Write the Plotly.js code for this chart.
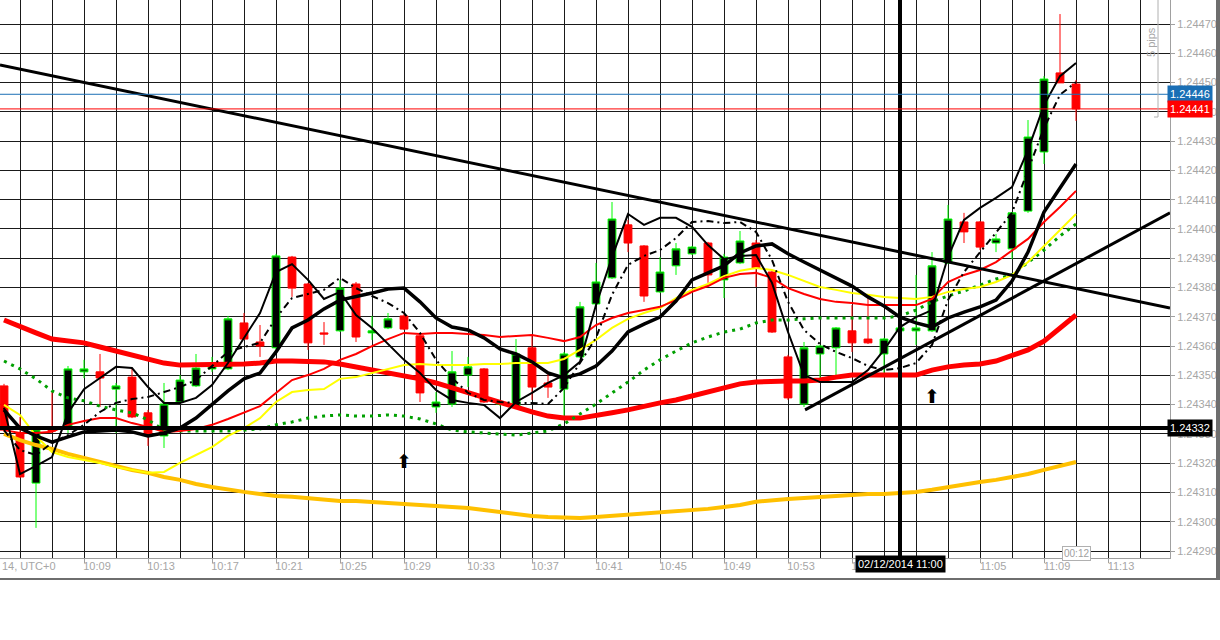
<!DOCTYPE html>
<html><head><meta charset="utf-8">
<script src="https://cdn.plot.ly/plotly-3.0.1.min.js"></script>
<style>html,body{margin:0;padding:0;background:#fff;}#chart{width:1220px;height:640px;}</style>
</head><body><div id="chart"></div>
<script>
const DAY = "2014-12-02";
const minutes = ["10:04","10:05","10:06","10:07","10:08","10:09","10:10","10:11","10:12","10:13",
"10:14","10:15","10:16","10:17","10:18","10:19","10:20","10:21","10:22","10:23",
"10:24","10:25","10:26","10:27","10:28","10:29","10:30","10:31","10:32","10:33",
"10:34","10:35","10:36","10:37","10:38","10:39","10:40","10:41","10:42","10:43",
"10:44","10:45","10:46","10:47","10:48","10:49","10:50","10:51","10:52","10:53",
"10:54","10:55","10:56","10:57","10:58","10:59","11:00","11:01","11:02","11:03",
"11:04","11:05","11:06","11:07","11:08","11:09","11:10","11:11"];
const tickLabels = ["10:09","10:13","10:17","10:21","10:25","10:29","10:33","10:37","10:41","10:45",
"10:49","10:53","10:57","11:05","11:09","11:13"];

const openP = [1.243464,1.243303,1.243132,1.243324,1.243327,1.243512,1.243512,1.243453,1.243494,1.243372,
1.243293,1.243409,1.243464,1.243522,1.243522,1.243679,1.243614,1.243594,1.243904,1.243812,
1.243645,1.243652,1.243812,1.243645,1.243662,1.243703,1.243635,1.243392,1.243402,1.243501,
1.243522,1.243402,1.243392,1.243594,1.243474,1.243453,1.243563,1.243744,1.243833,1.244014,
1.243942,1.243785,1.243874,1.243915,1.243952,1.243826,1.243884,1.243952,1.243853,1.243563,
1.243402,1.243573,1.243594,1.243652,1.243624,1.243573,1.243652,1.243652,1.243652,1.243884,
1.244024,1.244024,1.243952,1.243932,1.244061,1.244263,1.244533,1.244495];
const highP = [1.243471,1.243358,1.243317,1.243443,1.243532,1.243553,1.243573,1.243474,1.243522,1.243382,
1.243474,1.243501,1.243573,1.243563,1.243703,1.243713,1.243672,1.243915,1.243908,1.243816,
1.243682,1.243826,1.243819,1.243703,1.243713,1.243710,1.243638,1.243443,1.243583,1.243563,
1.243525,1.243416,1.243624,1.243635,1.243508,1.243580,1.243751,1.243884,1.244092,1.244031,
1.243945,1.243904,1.243952,1.243942,1.243956,1.243915,1.243993,1.243962,1.243860,1.243570,
1.243614,1.243604,1.243665,1.243740,1.243768,1.243628,1.243665,1.243843,1.243921,1.244082,
1.244055,1.244027,1.243983,1.244058,1.244372,1.244522,1.244734,1.244509];
const lowP = [1.243307,1.243150,1.242979,1.243307,1.243303,1.243491,1.243392,1.243303,1.243354,1.243259,
1.243252,1.243406,1.243460,1.243512,1.243518,1.243621,1.243563,1.243587,1.243768,1.243587,
1.243604,1.243648,1.243614,1.243621,1.243658,1.243655,1.243409,1.243372,1.243392,1.243460,
1.243406,1.243395,1.243389,1.243416,1.243423,1.243348,1.243559,1.243740,1.243829,1.243921,
1.243751,1.243781,1.243843,1.243911,1.243816,1.243764,1.243880,1.243802,1.243645,1.243416,
1.243392,1.243491,1.243494,1.243580,1.243607,1.243508,1.243648,1.243604,1.243648,1.243880,
1.243952,1.243928,1.243921,1.243897,1.244055,1.244222,1.244499,1.244369];
const closeP = [1.243313,1.243153,1.243313,1.243310,1.243522,1.243522,1.243491,1.243464,1.243358,1.243300,
1.243402,1.243484,1.243525,1.243535,1.243693,1.243624,1.243600,1.243908,1.243798,1.243611,
1.243641,1.243798,1.243631,1.243652,1.243693,1.243658,1.243440,1.243409,1.243512,1.243529,
1.243409,1.243406,1.243573,1.243460,1.243460,1.243573,1.243734,1.243819,1.244034,1.243952,
1.243771,1.243853,1.243932,1.243938,1.243843,1.243904,1.243959,1.243867,1.243648,1.243423,
1.243594,1.243600,1.243662,1.243611,1.243611,1.243624,1.243662,1.243662,1.243874,1.244034,
1.243990,1.243938,1.243966,1.244055,1.244314,1.244512,1.244499,1.244410];

const maOrange = [1.243300,1.243279,1.243262,1.243249,1.243232,1.243218,1.243204,1.243191,1.243177,1.243167,
1.243153,1.243143,1.243129,1.243119,1.243109,1.243102,1.243095,1.243088,1.243085,1.243081,
1.243074,1.243071,1.243071,1.243068,1.243064,1.243061,1.243057,1.243054,1.243050,1.243047,
1.243040,1.243033,1.243027,1.243020,1.243016,1.243013,1.243013,1.243016,1.243020,1.243023,
1.243027,1.243030,1.243033,1.243037,1.243044,1.243050,1.243057,1.243068,1.243074,1.243078,
1.243081,1.243085,1.243088,1.243091,1.243095,1.243095,1.243098,1.243102,1.243109,1.243119,
1.243129,1.243136,1.243143,1.243153,1.243163,1.243177,1.243191,1.243204];
const maRedThick = [1.243689,1.243665,1.243645,1.243624,1.243617,1.243611,1.243597,1.243583,1.243566,1.243553,
1.243542,1.243535,1.243535,1.243535,1.243535,1.243539,1.243542,1.243549,1.243549,1.243549,
1.243546,1.243539,1.243529,1.243518,1.243508,1.243498,1.243488,1.243474,1.243457,1.243440,
1.243423,1.243406,1.243389,1.243375,1.243361,1.243354,1.243354,1.243361,1.243372,1.243382,
1.243395,1.243406,1.243416,1.243430,1.243443,1.243460,1.243471,1.243477,1.243481,1.243481,
1.243481,1.243484,1.243494,1.243501,1.243501,1.243501,1.243501,1.243501,1.243518,1.243529,
1.243535,1.243539,1.243549,1.243566,1.243587,1.243617,1.243662,1.243706];
const maGreen = [1.243549,1.243522,1.243488,1.243447,1.243423,1.243413,1.243395,1.243382,1.243372,1.243348,
1.243313,1.243310,1.243310,1.243310,1.243310,1.243313,1.243317,1.243331,1.243341,1.243354,
1.243361,1.243365,1.243361,1.243361,1.243365,1.243361,1.243351,1.243334,1.243313,1.243307,
1.243303,1.243300,1.243296,1.243303,1.243310,1.243334,1.243368,1.243402,1.243440,1.243477,
1.243518,1.243553,1.243583,1.243611,1.243631,1.243648,1.243658,1.243679,1.243689,1.243689,
1.243693,1.243696,1.243696,1.243696,1.243696,1.243696,1.243703,1.243723,1.243751,1.243771,
1.243788,1.243809,1.243829,1.243843,1.243887,1.243928,1.243976,1.244017];
const maYellow = [1.243399,1.243365,1.243293,1.243238,1.243221,1.243211,1.243201,1.243187,1.243177,1.243167,
1.243170,1.243201,1.243228,1.243255,1.243293,1.243320,1.243354,1.243409,1.243443,1.243450,
1.243453,1.243488,1.243494,1.243508,1.243522,1.243535,1.243539,1.243535,1.243535,1.243535,
1.243539,1.243539,1.243542,1.243542,1.243542,1.243556,1.243587,1.243621,1.243662,1.243693,
1.243713,1.243730,1.243764,1.243792,1.243812,1.243839,1.243857,1.243867,1.243860,1.243843,
1.243822,1.243802,1.243792,1.243781,1.243775,1.243768,1.243764,1.243761,1.243768,1.243785,
1.243795,1.243802,1.243819,1.243843,1.243887,1.243942,1.243997,1.244051];
const maRedThin = [1.243313,1.243303,1.243303,1.243307,1.243331,1.243344,1.243354,1.243354,1.243337,1.243324,
1.243307,1.243310,1.243317,1.243331,1.243351,1.243372,1.243395,1.243440,1.243484,1.243501,
1.243522,1.243553,1.243573,1.243600,1.243624,1.243645,1.243641,1.243645,1.243645,1.243641,
1.243638,1.243631,1.243635,1.243638,1.243628,1.243617,1.243631,1.243672,1.243696,1.243713,
1.243723,1.243734,1.243757,1.243785,1.243805,1.243833,1.243846,1.243850,1.243833,1.243798,
1.243778,1.243761,1.243751,1.243747,1.243740,1.243740,1.243740,1.243740,1.243761,1.243819,
1.243843,1.243860,1.243887,1.243925,1.243966,1.244024,1.244075,1.244130];
const maBlackMid = [1.243382,1.243320,1.243293,1.243272,1.243290,1.243307,1.243310,1.243313,1.243307,1.243293,
1.243303,1.243320,1.243354,1.243399,1.243447,1.243488,1.243508,1.243580,1.243662,1.243689,
1.243727,1.243757,1.243768,1.243781,1.243795,1.243798,1.243751,1.243696,1.243665,1.243655,
1.243628,1.243590,1.243573,1.243546,1.243508,1.243491,1.243505,1.243532,1.243583,1.243648,
1.243675,1.243699,1.243754,1.243826,1.243850,1.243874,1.243918,1.243942,1.243949,1.243915,
1.243887,1.243860,1.243833,1.243805,1.243768,1.243737,1.243699,1.243679,1.243665,1.243696,
1.243716,1.243734,1.243757,1.243822,1.243921,1.244058,1.244140,1.244222];
const maBlackDash = [1.243313,1.243245,1.243228,1.243269,1.243296,1.243331,1.243375,1.243406,1.243419,1.243426,
1.243443,1.243460,1.243484,1.243532,1.243580,1.243597,1.243611,1.243696,1.243764,1.243778,
1.243792,1.243833,1.243798,1.243771,1.243747,1.243713,1.243645,1.243553,1.243491,1.243440,
1.243416,1.243409,1.243406,1.243406,1.243402,1.243457,1.243542,1.243628,1.243775,1.243877,
1.243908,1.243928,1.243969,1.244024,1.244027,1.244020,1.244024,1.243990,1.243894,1.243751,
1.243655,1.243607,1.243580,1.243559,1.243532,1.243518,1.243525,1.243542,1.243604,1.243757,
1.243853,1.243921,1.243990,1.244055,1.244201,1.244345,1.244458,1.244502];
const maBlackFast = [1.243389,1.243163,1.243191,1.243221,1.243372,1.243453,1.243491,1.243529,1.243525,1.243460,
1.243406,1.243406,1.243423,1.243467,1.243542,1.243628,1.243713,1.243853,1.243880,1.243826,
1.243761,1.243785,1.243706,1.243662,1.243607,1.243553,1.243508,1.243450,1.243416,1.243406,
1.243399,1.243354,1.243409,1.243440,1.243474,1.243501,1.243546,1.243740,1.243904,1.244051,
1.244014,1.244038,1.244038,1.244007,1.243945,1.243897,1.243908,1.243911,1.243816,1.243648,
1.243501,1.243477,1.243477,1.243477,1.243518,1.243587,1.243665,1.243699,1.243723,1.243904,
1.244031,1.244072,1.244106,1.244143,1.244270,1.244423,1.244522,1.244567];

const arrowMinutes = ["10:29","11:02"];
const arrowPrices = [1.243201,1.243423];
const trendDownTimes = ["10:03:45","11:16:52.5"];
const trendDownPrices = [1.244560,1.243730];
const trendUpTimes = ["10:54:04","11:16:52.5"];
const trendUpPrices = [1.243382,1.244055];
const hLevel = [1.24332];
const vLineTime = ["11:00"];
const bidPrice = 1.24441;
const askPrice = 1.24446;
const xRangeTimes = ["10:03:45","11:16:52.5"];
const yRange = [1.2428762,1.2447820];

const T = m => DAY + " " + m;
const xs = minutes.map(T);

function line(y, color, width, dash){
  return {type:"scatter", mode:"lines", x:xs, y:y, line:{color:color,width:width,dash:dash||"solid"}, hoverinfo:"skip"};
}
const traces = [
  line(maOrange, "#ffc000", 4),
  line(maRedThick, "#ff0000", 5),
  line(maGreen, "#00a000", 3, "3px,5px"),
  line(maYellow, "#ffff00", 2),
  line(maRedThin, "#ff0000", 2),
  line(maBlackMid, "#000000", 3.5),
  line(maBlackDash, "#000000", 2, "7px,4px,2px,4px"),
  line(maBlackFast, "#000000", 2),
  {type:"candlestick", x:xs, open:openP, high:highP, low:lowP, close:closeP,
   increasing:{line:{color:"#00ff00",width:1}, fillcolor:"#000000"},
   decreasing:{line:{color:"#ff0000",width:1}, fillcolor:"#ff0000"},
   whiskerwidth:0, hoverinfo:"skip"},
  {type:"scatter", mode:"text", x:arrowMinutes.map(T), y:arrowPrices, text:arrowMinutes.map(()=>"⬆"),
   textfont:{family:"DejaVu Sans", size:19, color:"#000"}, hoverinfo:"skip"}
];

const P = X => X/1170;           // pixel -> paper x helper for frame decorations
const Q = Y => (558-Y)/558;      // pixel -> paper y helper for frame decorations

const shapes = [
  {type:"line", xref:"x", yref:"y", x0:T(trendDownTimes[0]), y0:trendDownPrices[0], x1:T(trendDownTimes[1]), y1:trendDownPrices[1], line:{color:"#000",width:3}},
  {type:"line", xref:"x", yref:"y", x0:T(trendUpTimes[0]), y0:trendUpPrices[0], x1:T(trendUpTimes[1]), y1:trendUpPrices[1], line:{color:"#000",width:3}},
  {type:"line", xref:"paper", yref:"y", x0:0, x1:1, y0:hLevel[0], y1:hLevel[0], line:{color:"#000",width:4}},
  {type:"line", xref:"x", yref:"paper", x0:T(vLineTime[0]), x1:T(vLineTime[0]), y0:0, y1:1, line:{color:"#000",width:4}},
  {type:"line", xref:"paper", yref:"y", x0:0, x1:1, y0:askPrice, y1:askPrice, line:{color:"#1a6fb5",width:1}},
  {type:"line", xref:"paper", yref:"y", x0:0, x1:1, y0:bidPrice, y1:bidPrice, line:{color:"#ff0000",width:1}},
  {type:"line", xref:"paper", yref:"paper", x0:P(1158), x1:P(1158), y0:Q(0), y1:Q(117), line:{color:"#b0b0b0",width:1}},
  {type:"line", xref:"paper", yref:"paper", x0:P(1154), x1:P(1158), y0:Q(117), y1:Q(117), line:{color:"#b0b0b0",width:1}},
  {type:"line", xref:"paper", yref:"paper", x0:0, x1:P(1220), y0:Q(579), y1:Q(579), line:{color:"#6e6e6e",width:2}},
  {type:"rect", xref:"paper", yref:"paper", x0:P(1216), x1:P(1220), y0:Q(580), y1:Q(0), line:{width:0}, fillcolor:"#6e6e6e"}
];

const tagFont = {family:"Liberation Sans", size:11, color:"#ffffff"};
const annotations = [
  {xref:"paper", yref:"y", x:1, y:askPrice, xanchor:"left", yanchor:"middle", xshift:-3, text:askPrice.toFixed(5), showarrow:false, bgcolor:"#1a6fb5", font:tagFont, borderpad:2},
  {xref:"paper", yref:"y", x:1, y:bidPrice, xanchor:"left", yanchor:"middle", xshift:-3, text:bidPrice.toFixed(5), showarrow:false, bgcolor:"#ff0000", font:tagFont, borderpad:2},
  {xref:"paper", yref:"y", x:1, y:hLevel[0], xanchor:"left", yanchor:"middle", xshift:-3, text:hLevel[0].toFixed(5), showarrow:false, bgcolor:"#000000", font:tagFont, borderpad:2},
  {xref:"x", yref:"paper", x:T(vLineTime[0]), y:Q(564), xanchor:"center", yanchor:"middle", text:"02/12/2014 11:00", showarrow:false, bgcolor:"#000000", font:tagFont, borderpad:2},
  {xref:"x", yref:"paper", x:T(minutes[minutes.length-1]), y:Q(553), xanchor:"center", yanchor:"middle", text:"00:12", showarrow:false, bgcolor:"#ffffff", bordercolor:"#b0b0b0", borderwidth:1, font:{family:"Liberation Sans", size:10, color:"#a0a0a0"}, borderpad:1},
  {xref:"paper", yref:"paper", x:0, y:Q(566), xanchor:"left", yanchor:"middle", text:"14, UTC+0", showarrow:false, font:{family:"Liberation Sans", size:11, color:"#a6a6a6"}},
  {xref:"paper", yref:"paper", x:P(1151), y:Q(42), xanchor:"center", yanchor:"middle", text:"5 pips", textangle:-90, showarrow:false, font:{family:"Liberation Sans", size:11, color:"#a6a6a6"}}
];

const layout = {
  width:1220, height:640,
  margin:{l:0, r:50, t:0, b:82, pad:0},
  paper_bgcolor:"#ffffff", plot_bgcolor:"#ffffff",
  showlegend:false, hovermode:false,
  font:{family:"Liberation Sans", size:11, color:"#a6a6a6"},
  xaxis:{type:"date", range:xRangeTimes.map(T), rangeslider:{visible:false},
    tickmode:"array", tickvals:tickLabels.map(T), ticktext:tickLabels,
    showgrid:true, gridcolor:"#1a1a1a", gridwidth:1,
    minor:{tickmode:"linear", tick0:T("10:09"), dtick:120000, showgrid:true, gridcolor:"#1a1a1a", gridwidth:1, ticks:""},
    showline:true, linecolor:"#a0a0a0", linewidth:1,
    ticks:"outside", ticklen:4, tickcolor:"#a0a0a0", ticklabelshift:13, ticklabelstandoff:-6,
    tickfont:{family:"Liberation Sans", size:11, color:"#a6a6a6"},
    zeroline:false, automargin:false, fixedrange:true},
  yaxis:{side:"right", range:yRange, dtick:0.0001, tick0:1.2429, tickformat:".5f",
    showgrid:true, gridcolor:"#1a1a1a", gridwidth:1,
    showline:true, linecolor:"#a0a0a0", linewidth:1,
    ticks:"outside", ticklen:4, tickcolor:"#a0a0a0",
    tickfont:{family:"Liberation Sans", size:11, color:"#a6a6a6"},
    zeroline:false, automargin:false, fixedrange:true},
  shapes:shapes,
  annotations:annotations
};

Plotly.newPlot("chart", traces, layout, {staticPlot:true, displayModeBar:false});
</script>
</body></html>
